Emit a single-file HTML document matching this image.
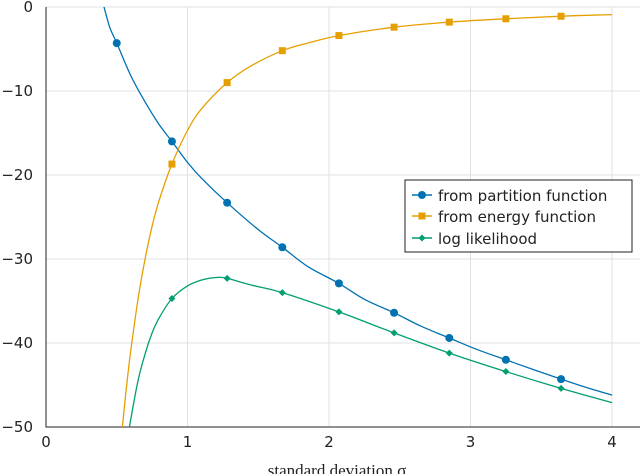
<!DOCTYPE html>
<html><head><meta charset="utf-8"><style>
body{margin:0;background:#fff}
svg{display:block}
.tick{font-family:"DejaVu Sans","Liberation Sans",sans-serif;font-size:15px;fill:#222}
</style></head><body>
<svg id="chart" width="640" height="474" viewBox="0 0 640 474">
<defs><clipPath id="clip"><rect x="46" y="7" width="594" height="420"/></clipPath></defs>
<g id="grid"></g>
<g id="axes"></g>
<g id="series" clip-path="url(#clip)"></g>
<g id="markers"></g>
<text x="337" y="476" text-anchor="middle" font-family="'Liberation Serif',serif" font-size="17" fill="#222">standard deviation σ</text>
<g>
<rect x="405" y="180" width="227" height="72" fill="#fff" stroke="#222" stroke-width="1"/>
<g><line x1="412" x2="432" y1="195" y2="195" stroke="#0072b2" stroke-width="1.5"/><circle cx="422" cy="195" r="4" fill="#0072b2"/><text x="438" y="201" class="tick" font-size="15">from partition function</text></g>
<g><line x1="412" x2="432" y1="216" y2="216" stroke="#e69f00" stroke-width="1.5"/><rect x="418.5" y="212.5" width="7" height="7" fill="#e69f00"/><text x="438" y="222" class="tick">from energy function</text></g>
<g><line x1="412" x2="432" y1="238" y2="238" stroke="#009e73" stroke-width="1.5"/><path d="M422 234.5L425.5 238L422 241.5L418.5 238Z" fill="#009e73"/><text x="438" y="244" class="tick">log likelihood</text></g>
</g>
</svg>
<script>
const xTicks=[0,1,2,3,4];
const yTicks=[0,-10,-20,-30,-40,-50];
const partSig=[0.41,0.45,0.5,0.6,0.7,0.8,0.89,1,1.1,1.28,1.5,1.67,1.85,2.07,2.25,2.46,2.65,2.85,3.05,3.25,3.45,3.64,3.82,4];
const partVal=[0,-2.4,-4.3,-8.2,-11.3,-14,-16,-18.5,-20.4,-23.3,-26.5,-28.6,-30.9,-32.9,-34.8,-36.4,-38,-39.4,-40.8,-42,-43.2,-44.3,-45.3,-46.2];
const enSig=[0.54,0.57,0.6,0.65,0.7,0.75,0.8,0.89,1,1.1,1.28,1.45,1.67,1.85,2.07,2.46,2.85,3.25,3.64,4];
const enVal=[-50,-45,-40.8,-34.8,-30,-26.1,-23,-18.7,-14.7,-12.1,-9,-7,-5.2,-4.3,-3.4,-2.4,-1.8,-1.4,-1.1,-0.9];
const llSig=[0.59,0.6,0.65,0.7,0.75,0.8,0.89,1,1.1,1.2,1.28,1.45,1.67,2.07,2.46,2.85,3.25,3.64,4];
const llVal=[-50,-49,-44.5,-41.3,-38.8,-37,-34.7,-33.2,-32.5,-32.2,-32.3,-33.1,-34,-36.3,-38.8,-41.2,-43.4,-45.4,-47.1];
const partMkS=[0.5,0.89,1.28,1.67,2.07,2.46,2.85,3.25,3.64];
const partMkV=[-4.3,-16,-23.3,-28.6,-32.9,-36.4,-39.4,-42,-44.3];
const enMkS=[0.89,1.28,1.67,2.07,2.46,2.85,3.25,3.64];
const enMkV=[-18.7,-9,-5.2,-3.4,-2.4,-1.8,-1.4,-1.1];
const llMkS=[0.89,1.28,1.67,2.07,2.46,2.85,3.25,3.64];
const llMkV=[-34.7,-32.3,-34,-36.3,-38.8,-41.2,-43.4,-45.4];
const NS="http://www.w3.org/2000/svg";
const X=v=>46+v*141.5, Y=v=>7-v*8.4;
function mk(t,a,p){const e=document.createElementNS(NS,t);for(const k in a)e.setAttribute(k,a[k]);p.appendChild(e);return e;}
const grid=document.getElementById('grid'),axes=document.getElementById('axes'),ser=document.getElementById('series'),mks=document.getElementById('markers');
xTicks.forEach(t=>{const l=mk('line',{x1:X(t),x2:X(t),y1:7,y2:427,stroke:'#e0e0e0'},grid);

const tx=mk('text',{x:X(t),y:447,'text-anchor':'middle',class:'tick'},axes);tx.textContent=t;
});
yTicks.forEach(t=>{const l=mk('line',{x1:46,x2:640,y1:Y(t),y2:Y(t),stroke:'#e0e0e0'},grid);

const tx=mk('text',{x:33,y:Y(t)+5,'text-anchor':'end',class:'tick'},axes);tx.textContent=t===0?'0':'−'+(-t);
});
const ax=mk('path',{d:'M46 7V427H640',fill:'none',stroke:'#222','stroke-width':1},axes);

function line(s,v,c,n){const P=s.map((x,i)=>[X(x),Y(v[i])]);
let d='M'+P[0][0].toFixed(1)+' '+P[0][1].toFixed(1);
for(let i=0;i<P.length-1;i++){const p0=P[Math.max(0,i-1)],p1=P[i],p2=P[i+1],p3=P[Math.min(P.length-1,i+2)];
const c1=[p1[0]+(p2[0]-p0[0])/6,p1[1]+(p2[1]-p0[1])/6],c2=[p2[0]-(p3[0]-p1[0])/6,p2[1]-(p3[1]-p1[1])/6];
d+=`C${c1[0].toFixed(1)} ${c1[1].toFixed(1)} ${c2[0].toFixed(1)} ${c2[1].toFixed(1)} ${p2[0].toFixed(1)} ${p2[1].toFixed(1)}`;}
const p=mk('path',{d:d,fill:'none',stroke:c,'stroke-width':1.3},ser);
}
line(partSig,partVal,'#0072b2','partition-line');
line(enSig,enVal,'#e69f00','energy-line');
line(llSig,llVal,'#009e73','loglik-line');
partMkS.forEach((s,i)=>{const c=mk('circle',{cx:X(s),cy:Y(partMkV[i]),r:4,fill:'#0072b2'},mks);
});
enMkS.forEach((s,i)=>{const c=mk('rect',{x:X(s)-3.5,y:Y(enMkV[i])-3.5,width:7,height:7,fill:'#e69f00'},mks);
});
llMkS.forEach((s,i)=>{const x=X(s),y=Y(llMkV[i]);const c=mk('path',{d:`M${x} ${y-3.5}L${x+3.5} ${y}L${x} ${y+3.5}L${x-3.5} ${y}Z`,fill:'#009e73'},mks);
});
</script>
</body></html>
